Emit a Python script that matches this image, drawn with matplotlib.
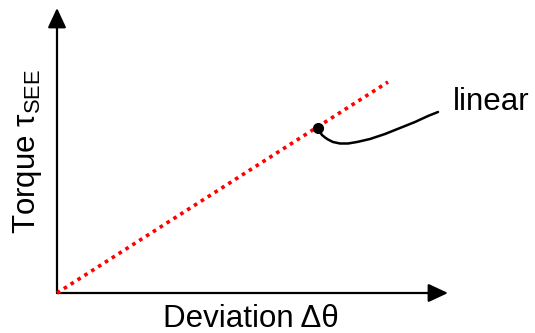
import matplotlib
matplotlib.use("Agg")
import matplotlib.pyplot as plt

plt.rcParams['font.family'] = ['Liberation Sans', 'DejaVu Sans']
plt.rcParams['mathtext.fontset'] = 'custom'
plt.rcParams['mathtext.rm'] = 'Liberation Sans'
plt.rcParams['mathtext.it'] = 'Liberation Sans'

# Data (conceptual units, origin at axis corner)
linear_x = [0, 331]
linear_y = [0, 211]
point_x = [261]
point_y = [165]
curve_x = [261, 263, 265, 268, 271, 276, 283, 291, 300, 313, 328, 343, 358, 371, 381]
curve_y = [165, 161, 158, 155.5, 153.5, 151, 149.5, 149.5, 151, 154, 159, 165, 171, 177, 181]
x_axis_end = 391
y_axis_end = 285
x_label = "Deviation Δθ"
y_label = r"Torque $\mathrm{τ}_{\mathrm{SEE}}$"
curve_label = "linear"

fig = plt.figure(figsize=(5.35, 3.33), dpi=100)
ax = fig.add_axes([0, 0, 1, 1])
ax.set_xlim(-57, 478)
ax.set_ylim(-40, 293)
ax.axis('off')

arrow = dict(arrowstyle='-|>,head_length=0.6,head_width=0.28', lw=1.6,
             color='black', mutation_scale=20, shrinkA=0, shrinkB=0)
ax.annotate('', xy=(x_axis_end, 0), xytext=(0, 0), arrowprops=arrow)
ax.annotate('', xy=(0, y_axis_end), xytext=(0, 0), arrowprops=arrow)

ax.plot(linear_x, linear_y, color='red', lw=2.6, linestyle=(0, (1, 1.25)),
        solid_capstyle='butt', dash_capstyle='butt', zorder=3)
ax.plot(curve_x, curve_y, color='black', lw=1.8, zorder=4,
        solid_joinstyle='round', solid_capstyle='round')
ax.plot(point_x, point_y, 'o', color='black', markersize=7, zorder=5)

ax.text(396, 183, curve_label, fontsize=22.5, ha='left', va='baseline')
ax.text(194, -34, x_label, fontsize=22.5, ha='center', va='baseline')
ax.text(-29, 142, y_label, fontsize=22.5, rotation=90, ha='center', va='center')

fig.savefig("out.png", dpi=100)
